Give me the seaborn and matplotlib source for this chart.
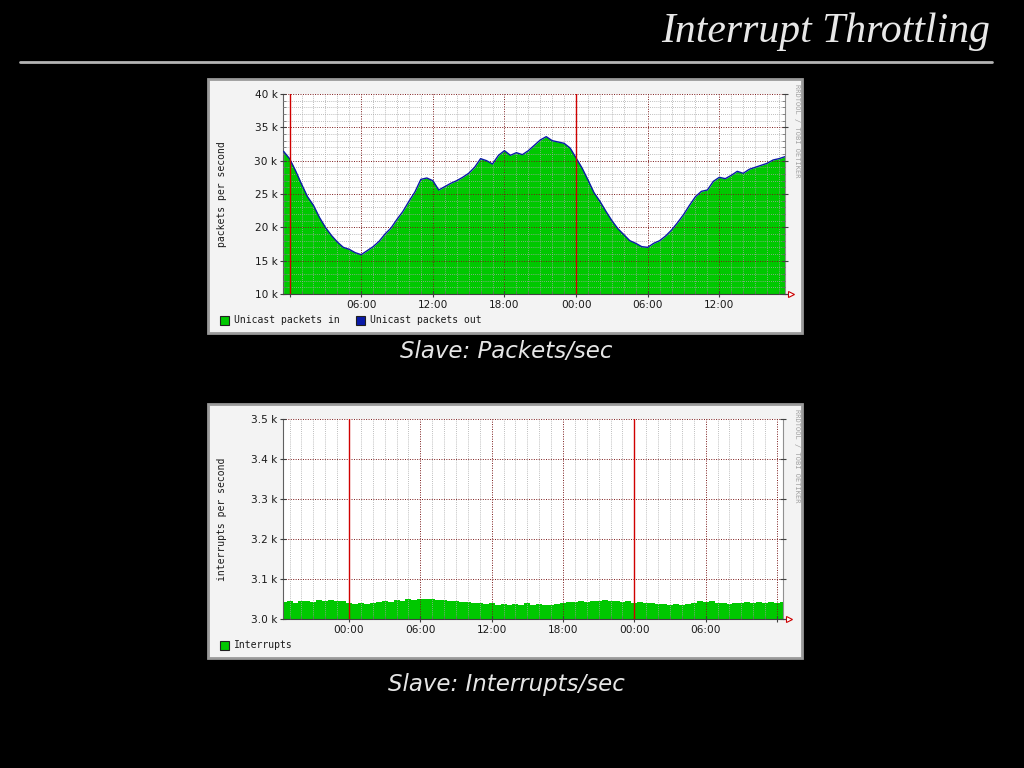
import matplotlib
matplotlib.use('Agg')
import matplotlib.pyplot as plt
import matplotlib.dates as mdates
from matplotlib.patches import Rectangle
from matplotlib.lines import Line2D
from matplotlib.ticker import MultipleLocator, FuncFormatter, NullLocator
import pandas as pd
import seaborn as sns

# half-hourly samples, k packets/sec, starting 23:30 the day before
packets_start = '2004-03-01 23:30'
packets_in = [
    31.4, 30.3, 28.5, 26.5, 24.6, 23.3, 21.5, 20.0, 18.8, 17.8,
    17.0, 16.7, 16.2, 15.9, 16.5, 17.1, 17.9, 19.0, 19.9, 21.2,
    22.4, 23.9, 25.3, 27.2, 27.4, 27.0, 25.6, 26.1, 26.6, 27.0,
    27.5, 28.1, 29.0, 30.3, 30.0, 29.5, 30.8, 31.5, 30.8, 31.2,
    30.9, 31.5, 32.3, 33.1, 33.6, 33.0, 32.8, 32.6, 31.9, 30.4,
    28.9, 27.1, 25.2, 23.9, 22.4, 21.0, 19.8, 18.9, 18.0, 17.6,
    17.1, 17.0, 17.6, 18.0, 18.7, 19.6, 20.7, 21.9, 23.3, 24.6,
    25.4, 25.6, 26.9, 27.5, 27.3, 27.8, 28.4, 28.1, 28.7, 29.0,
    29.3, 29.6, 30.1, 30.3, 30.6,
]
# the slave forwards everything, so out sits right on top of in
packets_out = packets_in

# half-hourly samples, k interrupts/sec, starting 18:30 the day before
irq_start = '2004-03-01 18:30'
interrupts = [
    3.042, 3.045, 3.041, 3.044, 3.046, 3.043, 3.047, 3.045, 3.048, 3.044,
    3.046, 3.040, 3.038, 3.041, 3.037, 3.040, 3.042, 3.044, 3.043, 3.047,
    3.046, 3.050, 3.048, 3.051, 3.049, 3.050, 3.047, 3.048, 3.044, 3.046,
    3.042, 3.043, 3.039, 3.040, 3.037, 3.039, 3.036, 3.038, 3.035, 3.038,
    3.036, 3.039, 3.035, 3.037, 3.034, 3.036, 3.038, 3.041, 3.043, 3.042,
    3.045, 3.043, 3.046, 3.044, 3.047, 3.045, 3.046, 3.043, 3.044, 3.041,
    3.042, 3.039, 3.040, 3.037, 3.038, 3.035, 3.037, 3.034, 3.037, 3.040,
    3.044, 3.042, 3.044, 3.041, 3.040, 3.038, 3.041, 3.039, 3.042, 3.040,
    3.043, 3.039, 3.042, 3.040, 3.043,
]

GREEN = '#00c800'
BLUE = '#0a1aa8'
W, H = 1024, 768

sns.set_theme(style='white')
plt.rcParams['font.family'] = ['DejaVu Sans']


def fx(px):
    return px / W


def fy(py):
    return 1 - py / H


fig = plt.figure(figsize=(10.24, 7.68), dpi=100, facecolor='black')

# slide title + rule
fig.text(fx(990), fy(42), 'Interrupt Throttling', ha='right', va='baseline',
         family='Liberation Serif', style='italic', size=30, color='#e8e8e8')
fig.add_artist(Line2D([fx(20), fx(992)], [fy(62), fy(62)], color='#b4b4b4', lw=2,
                      transform=fig.transFigure))


def rrd_graph(top, ax_w, values, start, ymin, ymax, ystep, yminor, fmt,
              ylabel, legend, caption, cap_y, step=False, outline=None):
    # grey card behind the graph
    fig.add_artist(Rectangle((fx(208), fy(top + 254)), 594 / W, 254 / H,
                             transform=fig.transFigure, facecolor='#f3f3f3',
                             edgecolor='#9a9a9a', lw=2, zorder=-1))
    ax = fig.add_axes([fx(283), fy(top + 215), ax_w / W, 200 / H])
    ax.set_facecolor('white')

    times = pd.date_range(start, periods=len(values), freq='30min')
    ax.fill_between(times, ymin, values, color=GREEN, lw=0, zorder=1,
                    step='mid' if step else None)
    if outline is not None:
        sns.lineplot(x=times, y=outline, ax=ax, color=BLUE, lw=1.0, zorder=3)
    ax.set_xlabel('')
    ax.set_ylabel('')

    ax.set_xlim(times[0] - pd.Timedelta(minutes=3), times[-1])
    ax.set_ylim(ymin, ymax)

    for t in pd.date_range(times[0].ceil('D'), times[-1], freq='D'):
        ax.axvline(t, color='#d00000', lw=1, zorder=3)

    ax.xaxis.set_major_locator(mdates.HourLocator(byhour=[0, 6, 12, 18]))
    ax.xaxis.set_minor_locator(mdates.HourLocator())

    def hour_label(x, pos):
        lo, hi = ax.get_xlim()
        if x - lo < 1.5 / 24 or hi - x < 1.5 / 24:
            return ''
        return mdates.num2date(x).strftime('%H:%M')

    ax.xaxis.set_major_formatter(FuncFormatter(hour_label))
    ax.yaxis.set_major_locator(MultipleLocator(ystep))
    if yminor:
        ax.yaxis.set_minor_locator(MultipleLocator(yminor))
    else:
        ax.yaxis.set_minor_locator(NullLocator())
    ax.yaxis.set_major_formatter(FuncFormatter(lambda v, p: fmt % v))

    ax.grid(True, which='minor', color='#a8a8a8', ls=(0, (1, 1.5)), lw=0.6)
    ax.grid(True, which='major', color='#7a1818', ls=(0, (1, 1.5)), lw=0.7)
    ax.set_axisbelow(False)

    ax.tick_params(which='major', direction='inout', length=4, width=0.8,
                   colors='#404040', labelcolor='#1a1a1a', labelsize=7.6, pad=2)
    ax.tick_params(which='minor', direction='in', length=2, width=0.5,
                   colors='#606060')
    ax.tick_params(axis='y', which='both', left=True, right=True, labelright=False)
    ax.tick_params(axis='x', which='both', bottom=True)
    ax.spines['top'].set_visible(False)
    ax.spines['left'].set_color('#606060')
    ax.spines['right'].set_color('#909090')
    ax.spines['bottom'].set_color('#404040')
    for s in ax.spines.values():
        s.set_linewidth(0.8)

    # little red arrow at the end of the time axis
    ax.plot([1.0, 1.012], [0, 0], color='#cc0000', lw=0.8,
            transform=ax.transAxes, clip_on=False)
    ax.plot([1.012], [0], marker='>', ms=4.5, mfc='white', mec='#cc0000', mew=0.8,
            transform=ax.transAxes, clip_on=False)

    fig.text(fx(222), fy(top + 115), ylabel, rotation=90, ha='center', va='center',
             family='DejaVu Sans Mono', size=7, color='#1a1a1a')
    fig.text(fx(797), fy(top + 5), 'RRDTOOL / TOBI OETIKER', rotation=270,
             ha='center', va='top', family='DejaVu Sans Mono', size=5,
             color='#a0a0a0')

    lx = 220
    for label, col in legend:
        fig.add_artist(Rectangle((fx(lx), fy(top + 246)), 9 / W, 9 / H,
                                 transform=fig.transFigure, facecolor=col,
                                 edgecolor='#202020', lw=0.8, zorder=2))
        fig.text(fx(lx + 14), fy(top + 241), label, ha='left', va='center',
                 family='DejaVu Sans Mono', size=7, color='#1a1a1a')
        lx += 14 + 6 * len(label) + 14

    fig.text(fx(506), fy(cap_y), caption, ha='center', va='center',
             style='italic', size=16.5, color='#e6e6e6')
    return ax


rrd_graph(79, 502, packets_in, packets_start, 10, 40, 5, 1, '%d k',
          'packets per second',
          [('Unicast packets in', GREEN), ('Unicast packets out', BLUE)],
          'Slave: Packets/sec', 351, outline=packets_out)

rrd_graph(404, 500, interrupts, irq_start, 3.0, 3.5, 0.1, None, '%.1f k',
          'interrupts per second', [('Interrupts', GREEN)],
          'Slave: Interrupts/sec', 685, step=True)

fig.savefig('out.png', dpi=100, facecolor='black')
